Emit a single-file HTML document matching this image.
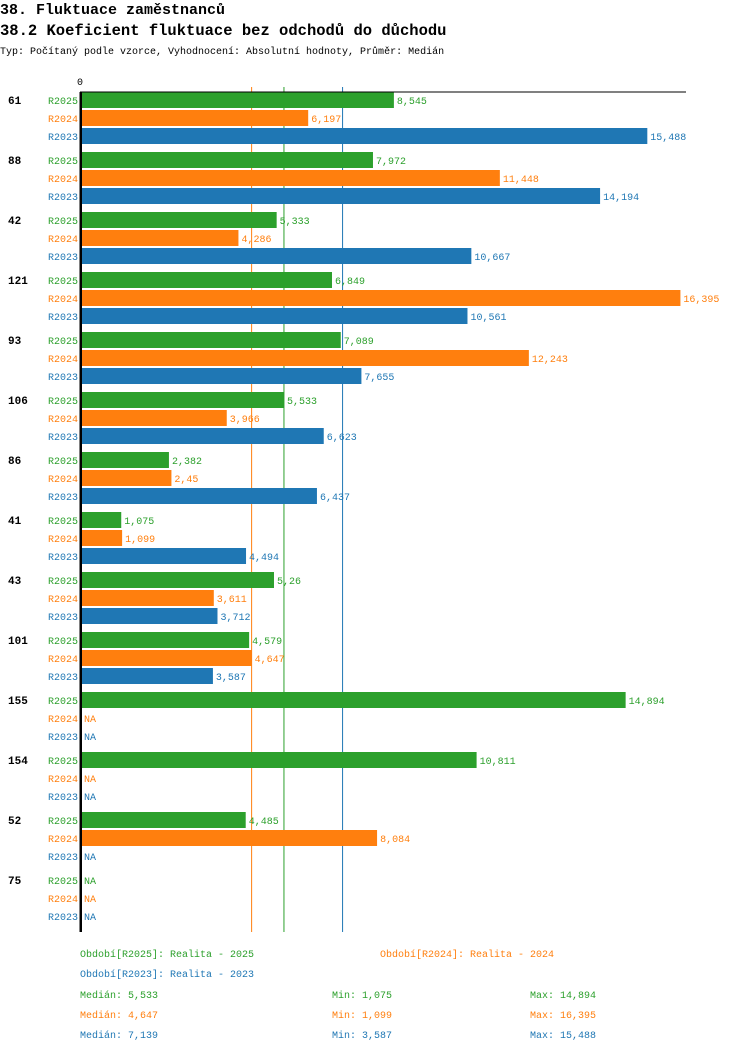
<!DOCTYPE html>
<html><head><meta charset="utf-8"><style>
body{margin:0;background:#fff;}
svg{display:block;font-family:"Liberation Mono",monospace;}
</style></head><body>
<svg id="c" width="750" height="1052" xmlns="http://www.w3.org/2000/svg">
<text x="0" y="14" font-size="15" font-weight="bold">38. Fluktuace zaměstnanců</text>
<text x="0" y="35" font-size="15.5" font-weight="bold">38.2 Koeficient fluktuace bez odchodů do důchodu</text>
<text x="0" y="54" font-size="10">Typ: Počítaný podle vzorce, Vyhodnocení: Absolutní hodnoty, Průměr: Medián</text>
<text x="77" y="85" font-size="10">0</text>
<g id="med"></g>
<g id="bars"></g>
<line x1="80" y1="92" x2="686" y2="92" stroke="#000" stroke-width="1"/>
<rect x="79.5" y="92" width="2.5" height="840" fill="#000"/>
<g font-size="10">
<text x="80" y="957" fill="#2ca02c">Období[R2025]: Realita - 2025</text>
<text x="380" y="957" fill="#ff7f0e">Období[R2024]: Realita - 2024</text>
<text x="80" y="977" fill="#1f77b4">Období[R2023]: Realita - 2023</text>
<text x="80" y="998" fill="#2ca02c">Medián: 5,533</text>
<text x="332" y="998" fill="#2ca02c">Min: 1,075</text>
<text x="530" y="998" fill="#2ca02c">Max: 14,894</text>
<text x="80" y="1018" fill="#ff7f0e">Medián: 4,647</text>
<text x="332" y="1018" fill="#ff7f0e">Min: 1,099</text>
<text x="530" y="1018" fill="#ff7f0e">Max: 16,395</text>
<text x="80" y="1038" fill="#1f77b4">Medián: 7,139</text>
<text x="332" y="1038" fill="#1f77b4">Min: 3,587</text>
<text x="530" y="1038" fill="#1f77b4">Max: 15,488</text>
</g>
</svg>
<script>
const categories=["61","88","42","121","93","106","86","41","43","101","155","154","52","75"];
const seriesNames=["R2025","R2024","R2023"];
const r2025=[8.545,7.972,5.333,6.849,7.089,5.533,2.382,1.075,5.26,4.579,14.894,10.811,4.485,null];
const r2024=[6.197,11.448,4.286,16.395,12.243,3.966,2.45,1.099,3.611,4.647,null,null,8.084,null];
const r2023=[15.488,14.194,10.667,10.561,7.655,6.623,6.437,4.494,3.712,3.587,null,null,null,null];
const medians=[5.533,4.647,7.139];
const colors=["#2ca02c","#ff7f0e","#1f77b4"];
const NS="http://www.w3.org/2000/svg";
const x=v=>82+v*36.5;
const gy=(g,k)=>92+g*60+k*18;
const bars=document.getElementById('bars');
function mk(t,a,p){const e=document.createElementNS(NS,t);for(const k in a)e.setAttribute(k,a[k]);p.appendChild(e);return e;}
function fmt(v){return String(v).replace('.',',');}
const series=[r2025,r2024,r2023];
categories.forEach((c,g)=>{
  const t=mk('text',{x:8,y:gy(g,0)+12,'font-size':11,'font-weight':'bold'},bars);
  t.textContent=c;
  
  
  series.forEach((s,k)=>{
    const y=gy(g,k);
    const l=mk('text',{x:78,y:y+12,'font-size':10,'text-anchor':'end',fill:colors[k]},bars);
    l.textContent=seriesNames[k];
    
    
    const v=s[g];
    let lx=84;
    if(v!=null){
      const r=mk('rect',{x:82,y:y,width:x(v)-82,height:16,fill:colors[k]},bars);
      
      
      lx=x(v)+3;
    }
    const vt=mk('text',{x:lx,y:y+12,'font-size':10,fill:colors[k]},bars);
    vt.textContent=v==null?'NA':fmt(v);
    
    
  });
});
const med=document.getElementById('med');
medians.forEach((m,k)=>{
  const l=mk('line',{x1:x(m),x2:x(m),y1:87,y2:932,stroke:colors[k],'stroke-width':1},med);
  
  
});
</script>
</body></html>
